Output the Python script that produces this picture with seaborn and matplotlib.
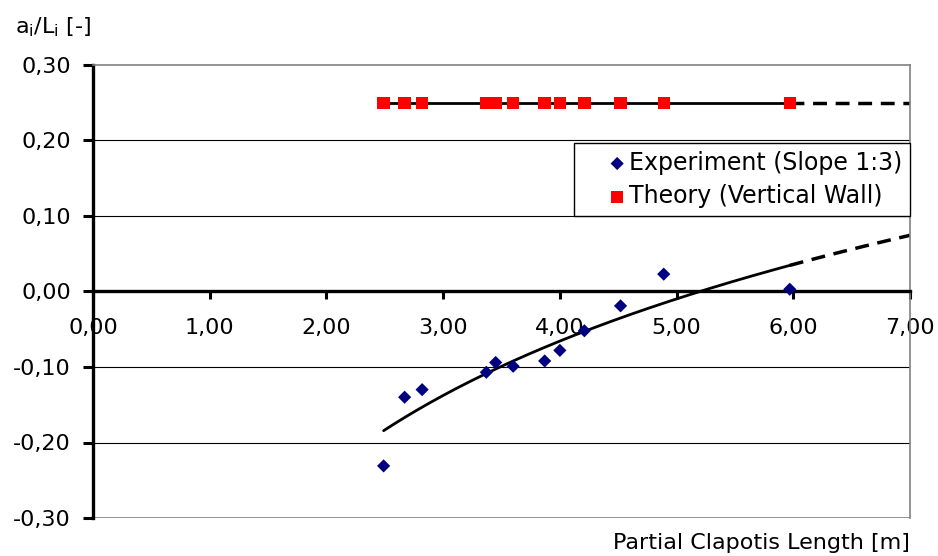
import numpy as np
import pandas as pd
import matplotlib
matplotlib.use("Agg")
import matplotlib.pyplot as plt
from matplotlib.ticker import FuncFormatter, MultipleLocator
import seaborn as sns

# ---- data ----
lengths = [2.49, 2.67, 2.82, 3.37, 3.45, 3.60, 3.87, 4.00, 4.21, 4.52, 4.89, 5.97]
experiment = [-0.231, -0.140, -0.130, -0.107, -0.094, -0.099, -0.092, -0.078, -0.052, -0.019, 0.023, 0.003]
theory = [0.25] * len(lengths)
forecast_end = 7.0

sns.set_theme(style="white")
plt.rcParams['font.family'] = ['DejaVu Sans']
plt.rcParams['text.color'] = 'black'
plt.rcParams['xtick.color'] = 'black'
plt.rcParams['ytick.color'] = 'black'

fig = plt.figure(figsize=(9.38, 5.56), dpi=100)
ax = fig.add_axes([93 / 938, 1 - 518 / 556, (910 - 93) / 938, (518 - 65) / 556])

# logarithmic trendline (least squares on ln x)
a, b = np.polyfit(np.log(lengths), experiment, 1)
xs_solid = np.linspace(min(lengths), max(lengths), 200)
xs_dash = np.linspace(max(lengths), forecast_end, 60)
trend_solid = pd.DataFrame({"x": xs_solid, "y": a * np.log(xs_solid) + b})
trend_dash = pd.DataFrame({"x": xs_dash, "y": a * np.log(xs_dash) + b})
th_solid = pd.DataFrame({"x": [min(lengths), max(lengths)], "y": [theory[0], theory[-1]]})
th_dash = pd.DataFrame({"x": [max(lengths), forecast_end], "y": [theory[-1], theory[-1]]})

# gridlines
for yv in [0.2, 0.1, -0.1, -0.2]:
    ax.axhline(yv, color="black", lw=0.8, zorder=0)
ax.axhline(-0.3, color="#808080", lw=1.2, zorder=0)

sns.lineplot(data=th_solid, x="x", y="y", ax=ax, color="black", lw=2, zorder=2)
sns.lineplot(data=th_dash, x="x", y="y", ax=ax, color="black", lw=2.5, zorder=2,
             linestyle=(0, (4, 2.5)))
sns.lineplot(data=trend_solid, x="x", y="y", ax=ax, color="black", lw=2, zorder=2)
sns.lineplot(data=trend_dash, x="x", y="y", ax=ax, color="black", lw=2.5, zorder=2,
             linestyle=(0, (4, 2.5)))

df = pd.DataFrame({"x": lengths, "exp": experiment, "th": theory})
sns.scatterplot(data=df, x="x", y="th", ax=ax, marker="s", s=80, color="#ff0000",
                edgecolor="none", linewidth=0, zorder=3, label="Theory (Vertical Wall)")
sns.scatterplot(data=df, x="x", y="exp", ax=ax, marker="D", s=45, color="#000080",
                edgecolor="none", linewidth=0, zorder=3, label="Experiment (Slope 1:3)")

ax.set_xlim(0, 7)
ax.set_ylim(-0.3, 0.3)
ax.xaxis.set_major_locator(MultipleLocator(1))
ax.yaxis.set_major_locator(MultipleLocator(0.1))
fmt = FuncFormatter(lambda v, p: f"{v:.2f}".replace(".", ",").replace("-0,00", "0,00"))
ax.xaxis.set_major_formatter(fmt)
ax.yaxis.set_major_formatter(fmt)

ax.spines["bottom"].set_position(("data", 0))
ax.spines["bottom"].set_color("black")
ax.spines["bottom"].set_linewidth(2.4)
ax.spines["left"].set_color("black")
ax.spines["left"].set_linewidth(2.4)
ax.spines["top"].set_color("#808080")
ax.spines["top"].set_linewidth(1.2)
ax.spines["right"].set_color("#808080")
ax.spines["right"].set_linewidth(1.2)

ax.tick_params(axis="x", direction="out", length=6, width=2.2, color="black",
               labelcolor="black", labelsize=16, pad=13, bottom=True)
ax.tick_params(axis="y", direction="out", length=7, width=2.2, color="black",
               labelcolor="black", labelsize=16, pad=9, left=True)
ax.set_xlabel("")
ax.set_ylabel("")

fig.text(15 / 938, 1 - 27 / 556, r"a$_\mathregular{i}$/L$_\mathregular{i}$ [-]",
         fontsize=16, ha="left", va="center", color="black")
fig.text(910 / 938, 1 - 543 / 556, "Partial Clapotis Length [m]",
         fontsize=16, ha="right", va="center", color="black")

h, l = ax.get_legend_handles_labels()
order = [l.index("Experiment (Slope 1:3)"), l.index("Theory (Vertical Wall)")]
leg = ax.legend([h[i] for i in order], [l[i] for i in order],
                loc="upper right", bbox_to_anchor=(1.0, 0.828), fontsize=17,
                frameon=True, fancybox=False, framealpha=1, edgecolor="black",
                handlelength=3.0, handletextpad=-1.0, borderpad=0.33,
                labelspacing=0.4, borderaxespad=0)
leg.get_frame().set_linewidth(1.0)
for t in leg.get_texts():
    t.set_color("black")

fig.savefig("out.png", dpi=100)
